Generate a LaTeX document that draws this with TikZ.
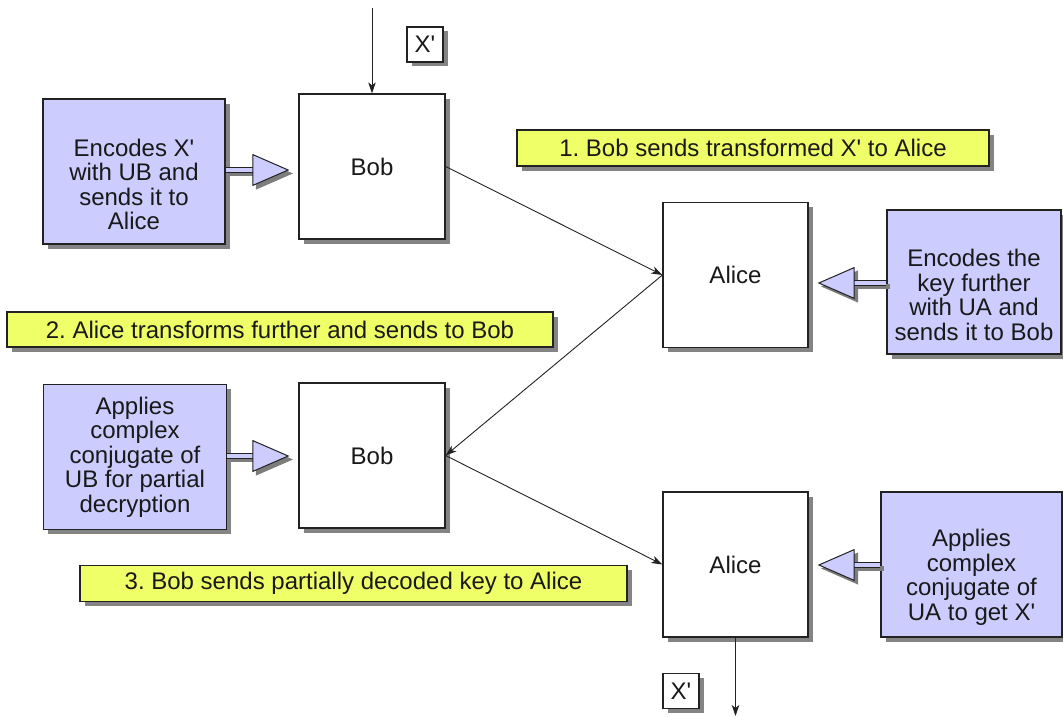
\documentclass[tikz,border=0pt]{standalone}
\usepackage{fontspec}
\setmainfont{Liberation Sans}[Ligatures=TeXOff]
\usetikzlibrary{arrows.meta,shadows,calc}
\definecolor{notefill}{RGB}{204,204,255}
\definecolor{stepfill}{RGB}{238,255,104}
\definecolor{edgecol}{RGB}{34,34,34}
\definecolor{shadecol}{RGB}{125,125,125}
\tikzset{
  boxshadow/.style={drop shadow={shadow xshift=4.5pt, shadow yshift=-4.5pt, fill=shadecol, opacity=0.95}},
  party/.style={draw=edgecol, line width=1.2pt, fill=white, minimum width=146pt, minimum height=145pt, boxshadow},
  note/.style={draw=edgecol, line width=1.2pt, fill=notefill, minimum height=145pt, align=center, boxshadow},
  stepnote/.style={draw=edgecol, line width=1.2pt, fill=stepfill, minimum height=36pt, boxshadow},
  tag/.style={draw=edgecol, line width=1.2pt, fill=white, minimum width=36pt, minimum height=35pt, inner sep=0pt, boxshadow},
  conn/.style={draw=edgecol, line width=0.9pt, -{Stealth[length=11pt, width=7.5pt, inset=3pt]}},
  fattip/.style={-{Triangle[length=37pt, width=32pt, fill=#1, line width=1pt]}},
  fat/.style={draw=edgecol, line width=1pt, double=notefill, double distance=3.5pt, fattip=notefill,
    preaction={draw=shadecol, double=shadecol, fattip=shadecol, transform canvas={shift={(3.5pt,-3.5pt)}}}},
}
\begin{document}
\frenchspacing
\begin{tikzpicture}[x=1pt, y=-1pt, font=\fontsize{24pt}{24.5pt}\selectfont, text=black!90]
\useasboundingbox (0,0) rectangle (1063,717);

% parties
\node[party] (bob1)   at (372,166.5) {Bob};
\node[party, minimum width=145pt] (alice1) at (735.5,275) {Alice};
\node[party] (bob2)   at (372,455.5) {Bob};
\node[party, minimum width=145pt] (alice2) at (735.5,564.5) {Alice};

% notes on what each party does
\node[note, minimum width=182pt] (encB) at (134,171.5)
  {\strut\\Encodes X'\\with UB and\\sends it to\\Alice};
\node[note, minimum width=174pt, minimum height=144pt] (encA) at (974,282)
  {\strut\\Encodes the\\key further\\with UA and\\sends it to Bob};
\node[note, minimum width=183pt] (decB) at (135,457)
  {Applies\\complex\\conjugate of\\UB for partial\\decryption};
\node[note, minimum width=181pt] (decA) at (971.5,564.5)
  {\strut\\Applies\\complex\\conjugate of\\UA to get X'};

% step captions
\node[stepnote, minimum width=472pt] (s1) at (753,148) {1. Bob sends transformed X' to Alice};
\node[stepnote, minimum width=546pt, minimum height=35pt] (s2) at (280,329.5) {2. Alice transforms further and sends to Bob};
\node[stepnote, minimum width=547pt] (s3) at (353.5,583.5) {3. Bob sends partially decoded key to Alice};

% key labels
\node[tag] (xin)  at (425,44.5) {X'};
\node[tag] (xout) at (681,691) {X'};

% key input and output
\coordinate (src)  at (bob1.north |- 0,8);
\coordinate (sink) at (alice2.south |- 0,716);
\draw[conn] (src) -- (bob1.north);
\draw[conn] (alice2.south) -- (sink);

% exchange between the parties
\draw[conn] (bob1.east) -- (alice1.west);
\draw[conn] (alice1.west) -- (bob2.east);
\draw[conn] (bob2.east) -- (alice2.west);

% operations applied by each party
\draw[fat, shorten >=9pt] (encB.east |- 0,170) -- (bob1.west |- 0,170);
\draw[fat, shorten >=9pt] (encA.west |- 0,283) -- (alice1.east |- 0,283);
\draw[fat, shorten >=9pt] (decB.east |- 0,456) -- (bob2.west |- 0,456);
\draw[fat, shorten >=9pt] (decA.west |- 0,565) -- (alice2.east |- 0,565);
\end{tikzpicture}
\end{document}
